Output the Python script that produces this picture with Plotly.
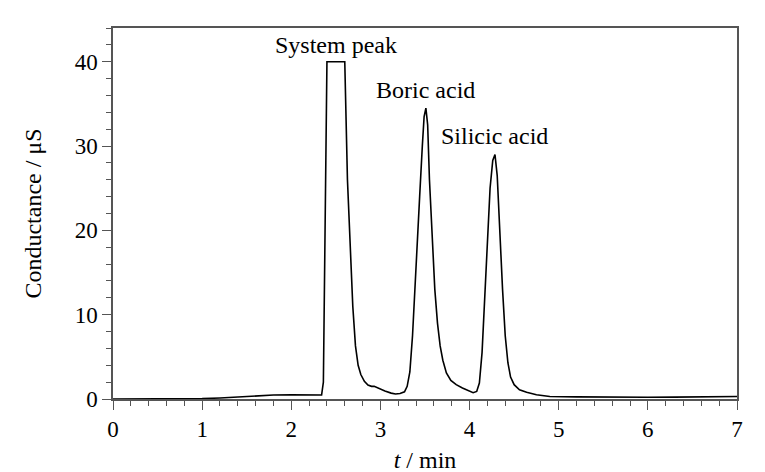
import plotly.graph_objects as go

# chromatogram trace
time_min = [0.0, 0.3, 0.6, 1.0, 1.2, 1.4, 1.6, 1.8, 2.0, 2.2, 2.34, 2.36, 2.38, 2.39,
            2.40, 2.60, 2.61, 2.63, 2.66, 2.69, 2.72, 2.75, 2.78, 2.82, 2.86, 2.90,
            2.93, 2.98, 3.05, 3.12, 3.17, 3.22, 3.27, 3.30, 3.33, 3.36, 3.40, 3.44,
            3.47, 3.49, 3.51, 3.53, 3.55, 3.58, 3.61, 3.64, 3.67, 3.70, 3.74, 3.79,
            3.85, 3.92, 3.98, 4.04, 4.08, 4.11, 4.14, 4.17, 4.20, 4.23, 4.26, 4.285,
            4.31, 4.34, 4.37, 4.40, 4.43, 4.46, 4.50, 4.56, 4.64, 4.75, 4.9, 5.2,
            5.6, 6.0, 6.3, 6.5, 6.8, 7.0]
conductance = [0.0, 0.0, 0.02, 0.05, 0.12, 0.25, 0.38, 0.47, 0.5, 0.48, 0.47, 2.0, 20, 36,
               40, 40, 34, 26, 18.5, 11, 6.3, 4.0, 2.9, 2.1, 1.65, 1.5,
               1.5, 1.25, 0.95, 0.7, 0.6, 0.65, 0.85, 1.5, 3.2, 7.5, 15, 24,
               30, 33.5, 34.5, 32.5, 26, 19.5, 13, 9.0, 6.3, 4.6, 3.1, 2.2,
               1.7, 1.3, 1.0, 0.75, 0.9, 1.9, 5.5, 12.5, 19.5, 25, 28.3, 29.0,
               26.5, 19.5, 13, 7.5, 4.3, 2.6, 1.7, 1.1, 0.8, 0.5, 0.3, 0.25,
               0.2, 0.2, 0.22, 0.25, 0.28, 0.3]

peak_labels = ["System peak", "Boric acid", "Silicic acid"]
peak_x = [2.50, 3.51, 4.28]
peak_y = [42.0, 36.6, 31.2]

FONT = "Liberation Serif, Times New Roman, serif"
AX = "#555555"

fig = go.Figure(go.Scatter(x=time_min, y=conductance, mode="lines",
                           line=dict(color="black", width=1.6), showlegend=False))

for lab, px, py in zip(peak_labels, peak_x, peak_y):
    fig.add_annotation(x=px, y=py, text=lab, showarrow=False,
                       font=dict(family=FONT, size=24, color="black"))

axis_common = dict(showline=True, linecolor=AX, linewidth=1.5, mirror=True,
                   ticks="outside", tickcolor=AX, tickwidth=1.2, ticklen=9,
                   showgrid=False, zeroline=False, automargin=False,
                   tickfont=dict(family=FONT, size=23, color="black"))

# page body adds an 8px offset, so margins are shifted to compensate
fig.update_layout(
    width=765, height=472,
    paper_bgcolor="white", plot_bgcolor="white",
    margin=dict(l=105, r=36, t=20, b=81),
    font=dict(family=FONT, color="black"),
    xaxis=dict(range=[0, 7], dtick=1, tick0=0,
               minor=dict(dtick=0.2, ticks="outside", ticklen=5, tickcolor=AX, tickwidth=1.2),
               title=dict(text="<i>t</i> / min", font=dict(family=FONT, size=24), standoff=10),
               **axis_common),
    yaxis=dict(range=[0, 44], dtick=10, tick0=0,
               minor=dict(dtick=2, ticks="outside", ticklen=5, tickcolor=AX, tickwidth=1.2),
               title=dict(text="Conductance / μS", font=dict(family=FONT, size=24), standoff=26),
               **axis_common),
)

fig.write_html("out.html")
